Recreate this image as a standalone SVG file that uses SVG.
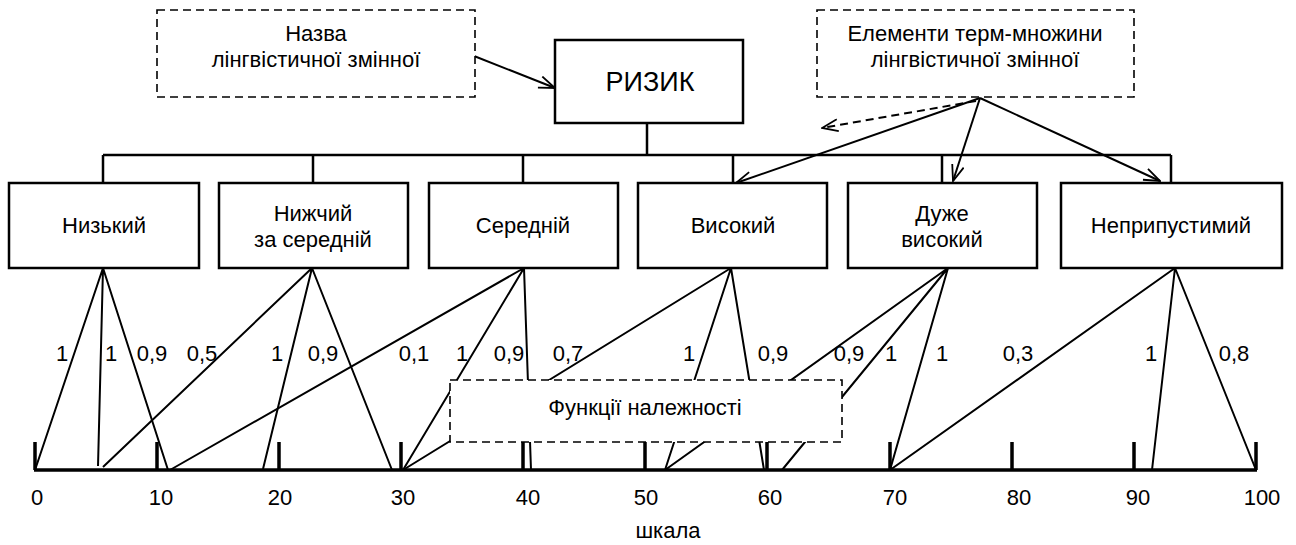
<svg xmlns="http://www.w3.org/2000/svg" width="1296" height="545" viewBox="0 0 1296 545">
<defs>
<marker id="arr" markerWidth="18" markerHeight="14" refX="17" refY="7" orient="auto" markerUnits="userSpaceOnUse">
<path d="M1,1 L17,7 L1,13" fill="none" stroke="#000" stroke-width="1.8"/>
</marker>
</defs>
<style>
text{font-family:"Liberation Sans",Arial,sans-serif;fill:#000}
.lbl{font-size:22px;text-anchor:middle}
.num{font-size:22px;text-anchor:middle}
.box{fill:#fff;stroke:#000;stroke-width:2.5}
.dbox{fill:#fff;stroke:#000;stroke-width:1.6;stroke-dasharray:8 5}
.ln{stroke:#000;stroke-width:2;fill:none}
.bus{stroke:#000;stroke-width:2.5;fill:none}
.axis{stroke:#000;stroke-width:3.5;fill:none}
</style>
<rect width="1296" height="545" fill="#fff"/>
<g id="connectors">
<path class="bus" d="M647,123 V155 M103,155 H1171 M103,155 V183 M313,155 V183 M523,155 V183 M733,155 V183 M942,155 V183 M1171,155 V183"/>
<line class="ln" x1="474" y1="56" x2="555" y2="88" marker-end="url(#arr)"/>
<line class="ln" x1="980" y1="98" x2="736" y2="183" marker-end="url(#arr)"/>
<line class="ln" x1="980" y1="98" x2="953" y2="181" marker-end="url(#arr)"/>
<line class="ln" x1="980" y1="98" x2="1160" y2="181" marker-end="url(#arr)"/>
<line class="ln" x1="976" y1="101" x2="822" y2="128" stroke-dasharray="8 5" marker-end="url(#arr)"/>
<g id="membership">
<path class="ln" d="M103,268 L35,470 M103,268 L98,466 M103,268 L168,470"/>
<path class="ln" d="M312,268 L103,467 M312,268 L263,469 M312,268 L392,470"/>
<path class="ln" d="M524,268 L170,470 M524,268 L403,470 M524,268 L531,470"/>
<path class="ln" d="M731,268 L403,470 M731,268 L665,470 M731,268 L764,470"/>
<path class="ln" d="M948,268 L665,470 M948,268 L782,470 M948,268 L890,470"/>
<path class="ln" d="M1175,268 L890,470 M1175,268 L1152,470 M1175,268 L1256,470"/>
</g>
</g>
<g id="axis">
<path class="axis" d="M34,470 H1257"/>
<path class="axis" d="M35,442 V470 M157,442 V470 M279,442 V470 M401,442 V470 M523,442 V470 M645,442 V470 M767,442 V470 M890,442 V470 M1012,442 V470 M1134,442 V470 M1256,442 V470"/>
<g class="num">
<text x="37" y="505">0</text>
<text x="161" y="505">10</text>
<text x="280" y="505">20</text>
<text x="403" y="505">30</text>
<text x="528" y="505">40</text>
<text x="646" y="505">50</text>
<text x="770" y="505">60</text>
<text x="895" y="505">70</text>
<text x="1019" y="505">80</text>
<text x="1138" y="505">90</text>
<text x="1262" y="505">100</text>
</g>
<text class="lbl" x="668" y="538">шкала</text>
</g>
<g id="degrees" class="num">
<text x="62" y="361">1</text>
<text x="111" y="361">1</text>
<text x="152" y="361">0,9</text>
<text x="202" y="361">0,5</text>
<text x="277" y="361">1</text>
<text x="323" y="361">0,9</text>
<text x="414" y="361">0,1</text>
<text x="462" y="361">1</text>
<text x="509" y="361">0,9</text>
<text x="568" y="361">0,7</text>
<text x="689" y="361">1</text>
<text x="773" y="361">0,9</text>
<text x="849" y="361">0,9</text>
<text x="891" y="361">1</text>
<text x="942" y="361">1</text>
<text x="1018" y="361">0,3</text>
<text x="1151" y="361">1</text>
<text x="1234" y="361">0,8</text>
</g>
<g id="name-note">
<rect class="dbox" x="157" y="10" width="318" height="87"/>
<text class="lbl" x="316" y="41">Назва</text>
<text class="lbl" x="316" y="67">лінгвістичної змінної</text>
</g>
<g id="terms-note">
<rect class="dbox" x="817" y="10" width="317" height="87"/>
<text class="lbl" x="975" y="41">Елементи терм-множини</text>
<text class="lbl" x="975" y="67">лінгвістичної змінної</text>
</g>
<g id="risk">
<rect class="box" x="555" y="40" width="188" height="83"/>
<text x="650" y="91" font-size="27" text-anchor="middle">РИЗИК</text>
</g>
<g id="low">
<rect class="box" x="9" y="183" width="190" height="85"/>
<text class="lbl" x="104" y="233">Низький</text>
</g>
<g id="below-mid">
<rect class="box" x="219" y="183" width="189" height="85"/>
<text class="lbl" x="313" y="221">Нижчий</text>
<text class="lbl" x="313" y="247">за середній</text>
</g>
<g id="mid">
<rect class="box" x="429" y="183" width="189" height="85"/>
<text class="lbl" x="523" y="233">Середній</text>
</g>
<g id="high">
<rect class="box" x="638" y="183" width="189" height="85"/>
<text class="lbl" x="733" y="233">Високий</text>
</g>
<g id="very-high">
<rect class="box" x="848" y="183" width="189" height="85"/>
<text class="lbl" x="942" y="221">Дуже</text>
<text class="lbl" x="942" y="247">високий</text>
</g>
<g id="unacceptable">
<rect class="box" x="1061" y="183" width="221" height="85"/>
<text class="lbl" x="1171" y="233">Неприпустимий</text>
</g>
<g id="membership-note">
<rect class="dbox" x="450" y="380" width="392" height="62"/>
<text class="lbl" x="645" y="415">Функції належності</text>
</g>
</svg>
